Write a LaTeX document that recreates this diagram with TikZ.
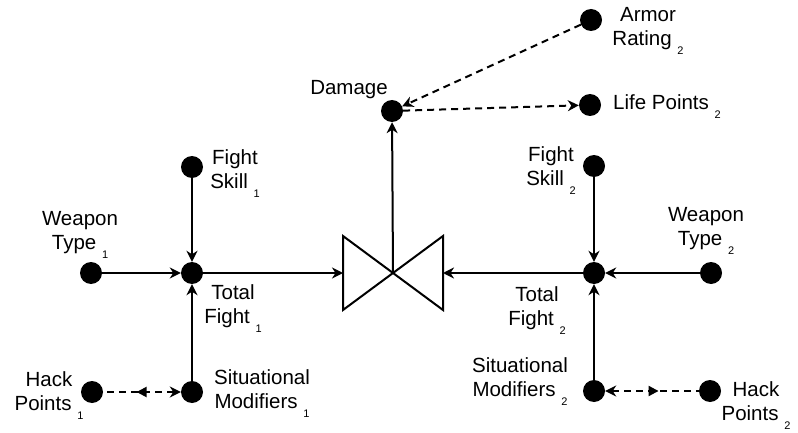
\documentclass[tikz,border=0pt]{standalone}
\usepackage{fontspec}
\setmainfont{Liberation Sans}
\usetikzlibrary{arrows.meta,decorations.markings}
\newcommand{\idx}[1]{\ \raisebox{-9pt}{\fontsize{11}{11}\selectfont #1}}

\begin{document}
\begin{tikzpicture}[x=1pt, y=-1pt,
    >={Stealth[length=11pt,width=11pt,inset=3.5pt]},
    dot/.style={circle, fill=black, inner sep=0pt, minimum size=22pt},
    lbl/.style={align=center, inner sep=0pt, font=\fontsize{20.5}{24}\selectfont},
    wire/.style={line width=2pt},
    link/.style={wire, ->},
    dlink/.style={link, dash pattern=on 7pt off 5pt},
    midtip/.style={postaction={decorate}, decoration={markings,
        mark=at position 0.57 with {\arrow{Triangle[length=10pt,width=10pt]}}}}
  ]
  \useasboundingbox (0,0) rectangle (798,433);

  % DAMAGE
  \node[dot] (damage) at (392,111) {};
  \node[lbl] (damagelbl) at (349,90) {Damage};
  \node[dot] (armor) at (591,20) {};
  \node[lbl] (armorlbl) at (648,31) {Armor\\Rating\idx{2}};
  \node[dot] (life) at (590,105) {};
  \node[lbl] (lifelbl) at (667,107) {Life Points\idx{2}};

  % VALVE
  \coordinate (valve) at (393,273);
  \coordinate (valveL) at (343,273);
  \coordinate (valveR) at (443,273);
  \draw[wire, line join=miter] (343,236) -- (443,310) -- (443,236) -- (343,310) -- cycle;

  % FIGHTER 1
  \node[dot] (skillA) at (192,167) {};
  \node[lbl] (skillAlbl) at (235,174) {Fight\\Skill\idx{1}};
  \node[dot] (weaponA) at (91,273) {};
  \node[lbl] (weaponAlbl) at (80,235) {Weapon\\Type\idx{1}};
  \node[dot] (totalA) at (192,273) {};
  \node[lbl] (totalAlbl) at (233,309) {Total\\Fight\idx{1}};
  \node[dot] (sitA) at (192,392) {};
  \node[lbl] (sitAlbl) at (262,394) {Situational\\Modifiers\idx{1}};
  \node[dot] (hackA) at (92,392) {};
  \node[lbl] (hackAlbl) at (49,396) {Hack\\Points\idx{1}};

  % FIGHTER 2
  \node[dot] (skillB) at (594,166) {};
  \node[lbl] (skillBlbl) at (551,171) {Fight\\Skill\idx{2}};
  \node[dot] (weaponB) at (711,273) {};
  \node[lbl] (weaponBlbl) at (706,231) {Weapon\\Type\idx{2}};
  \node[dot] (totalB) at (594,273) {};
  \node[lbl] (totalBlbl) at (537,311) {Total\\Fight\idx{2}};
  \node[dot] (sitB) at (594,391) {};
  \node[lbl] (sitBlbl) at (520,382) {Situational\\Modifiers\idx{2}};
  \node[dot] (hackB) at (710,391) {};
  \node[lbl] (hackBlbl) at (756,406) {Hack\\Points\idx{2}};

  % LINKS
  \draw[link] (skillA) -- (totalA);
  \draw[link] (weaponA) -- (totalA);
  \draw[link] (sitA) -- (totalA);
  \draw[link] (totalA) -- (valveL);
  \draw[link] (skillB) -- (totalB);
  \draw[link] (weaponB) -- (totalB);
  \draw[link] (sitB) -- (totalB);
  \draw[link] (totalB) -- (valveR);
  \draw[link] (valve) -- (damage);
  \draw[dlink] (armor) -- (damage);
  \draw[dlink] (damage) -- (life);
  \draw[dlink, <-, midtip] (sitA) -- (hackA);
  \draw[dlink, <-, midtip] (sitB) -- (hackB);

\end{tikzpicture}
\end{document}
